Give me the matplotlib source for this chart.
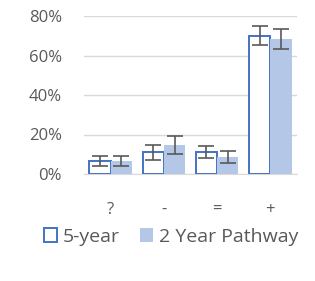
import matplotlib.pyplot as plt
import numpy as np

categories = ['?', '-', '=', '+']
five_year = [6.8, 11.0, 11.0, 70.1]
five_year_err = [2.5, 3.9, 3.1, 4.6]
two_year = [6.8, 14.6, 8.5, 68.4]
two_year_err = [2.5, 4.4, 2.9, 5.1]

plt.rcParams['font.family'] = ['Open Sans', 'DejaVu Sans']
grey = '#595959'

fig = plt.figure(figsize=(3.15, 2.81), dpi=100)
ax = fig.add_axes([84 / 315, 1 - 174 / 281, 213 / 315, 158 / 281])

x = np.arange(len(categories))
w = 0.4
err_style = dict(ecolor=grey, elinewidth=1.2, capsize=6, capthick=1.2)
ax.bar(x - w / 2, five_year, w, color='white', edgecolor='#4472C4', linewidth=1.4,
       yerr=five_year_err, error_kw=err_style, label='5-year', zorder=3)
ax.bar(x + w / 2, two_year, w, color='#B4C7E7', edgecolor='none',
       yerr=two_year_err, error_kw=err_style, label='2 Year Pathway', zorder=3)

ax.set_ylim(0, 80)
ax.set_xlim(-0.5, 3.5)
ax.set_yticks([0, 20, 40, 60, 80])
ax.set_yticklabels([f'{v}%' for v in [0, 20, 40, 60, 80]])
ax.set_xticks(x)
ax.set_xticklabels(categories)
ax.tick_params(length=0, colors=grey, labelsize=12)
ax.tick_params(axis='x', pad=20)
ax.tick_params(axis='y', pad=16)
ax.grid(axis='y', color='#D9D9D9', linewidth=1, zorder=0)
for s in ['top', 'right', 'left']:
    ax.spines[s].set_visible(False)
ax.spines['bottom'].set_color('#D9D9D9')

fig.legend(loc='center', bbox_to_anchor=(171 / 315, 1 - 237 / 281), ncol=2, frameon=False,
           fontsize=14, labelcolor=grey, handlelength=0.7, handleheight=0.7,
           handletextpad=0.3, columnspacing=1.0, borderpad=0)

fig.savefig('out.png', dpi=100)
